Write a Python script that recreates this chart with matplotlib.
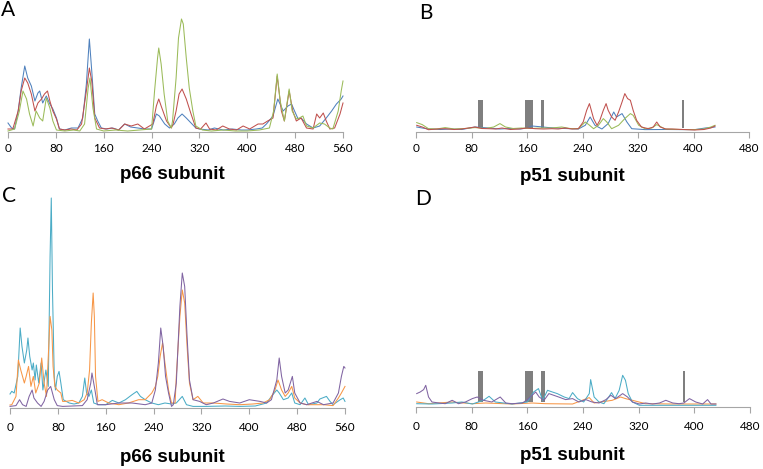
import matplotlib.pyplot as plt

W, H = 763, 469

# heights (px above each x axis), x = residue number
a_blue = [(0, 9), (6, 4), (11, 3), (17, 21), (22, 44), (28, 66), (33, 54), (39, 46), (45, 31), (50, 39),
          (53, 41), (58, 29), (64, 36), (70, 28), (75, 23), (81, 14), (86, 3), (95, 2), (106, 4), (117, 4),
          (125, 14), (131, 48), (136, 93), (140, 61), (145, 18), (150, 11), (156, 4), (165, 3), (175, 4),
          (185, 2), (195, 8), (205, 5), (217, 4), (228, 3), (240, 3), (248, 18), (253, 16), (262, 8),
          (270, 4), (278, 8), (284, 14), (291, 18), (298, 14), (306, 9), (314, 4), (320, 3), (335, 2),
          (345, 4), (360, 2), (375, 3), (390, 2), (400, 2), (415, 3), (425, 4), (432, 8), (443, 16),
          (451, 33), (460, 21), (468, 26), (474, 28), (479, 21), (485, 13), (490, 14), (499, 8), (510, 4),
          (521, 6), (532, 14), (541, 21), (549, 28), (557, 33), (560, 36)]
a_red = [(0, 3), (8, 3), (17, 21), (22, 41), (28, 54), (33, 49), (39, 38), (45, 21), (50, 29), (56, 33),
         (61, 38), (66, 41), (70, 31), (75, 21), (81, 13), (86, 3), (95, 2), (105, 3), (115, 2), (123, 8),
         (131, 41), (136, 64), (140, 51), (145, 14), (153, 4), (163, 3), (173, 4), (185, 2), (195, 8),
         (206, 6), (217, 8), (228, 3), (242, 8), (248, 26), (252, 33), (256, 26), (265, 11), (273, 4),
         (276, 8), (281, 21), (286, 38), (291, 43), (298, 33), (306, 18), (314, 4), (322, 3), (331, 9),
         (337, 3), (348, 2), (359, 6), (370, 3), (382, 2), (393, 6), (404, 3), (418, 8), (426, 8),
         (434, 11), (443, 14), (450, 56), (457, 21), (462, 11), (470, 41), (476, 21), (482, 11), (490, 14),
         (499, 4), (510, 3), (516, 18), (521, 14), (527, 19), (532, 11), (538, 3), (546, 4), (555, 18),
         (560, 29)]
a_green = [(0, 1), (11, 3), (19, 21), (25, 41), (31, 33), (36, 18), (42, 6), (47, 21), (53, 14), (58, 11),
           (64, 34), (70, 24), (75, 11), (81, 2), (95, 1), (110, 2), (120, 1), (128, 8), (134, 44),
           (137, 54), (142, 24), (148, 3), (160, 1), (180, 2), (200, 1), (220, 2), (240, 3), (245, 41),
           (250, 74), (252, 84), (256, 68), (261, 38), (267, 11), (273, 4), (275, 11), (281, 54), (285, 94),
           (290, 113), (293, 108), (298, 74), (303, 44), (309, 21), (314, 6), (325, 2), (340, 1), (360, 2),
           (380, 1), (400, 1), (420, 2), (437, 4), (444, 21), (450, 58), (455, 31), (462, 11), (470, 43),
           (475, 21), (482, 13), (487, 14), (493, 16), (499, 6), (510, 4), (521, 9), (529, 8), (538, 4),
           (543, 3), (552, 21), (557, 41), (560, 51)]

b_red = [(1, 6.7), (9, 5), (18, 2.3), (30, 3), (42, 3.3), (55, 2.5), (66, 3), (76, 4), (85, 5), (95, 3.5),
         (105, 3.3), (115, 3), (124, 4), (136, 2.5), (148, 3), (160, 4), (172, 3.3), (184, 3), (196, 3.3),
         (205, 3), (215, 4), (225, 3), (234, 3.3), (241, 10), (246, 21.7), (250, 28.4), (256, 13.4),
         (261, 6.7), (265, 11.7), (270, 21.7), (274, 28.4), (277, 21.7), (282, 15), (287, 11.7), (292, 20),
         (297, 30), (301, 38.4), (305, 33.4), (309, 31.7), (313, 21.7), (318, 11.7), (325, 5), (335, 3.3),
         (342, 5), (347, 10), (352, 5), (360, 3), (369, 3), (385, 2.5), (402, 2), (415, 2.5), (425, 4),
         (431, 6)]
b_green = [(1, 9.4), (9, 7.4), (18, 3.3), (30, 3), (42, 4.4), (55, 3), (70, 3.5), (85, 4.4), (100, 3.5),
           (112, 5), (121, 8.4), (129, 5), (140, 3.5), (152, 4), (165, 3.5), (180, 4), (196, 4), (210, 5),
           (222, 3.5), (234, 3.3), (244, 10), (249, 7.4), (256, 3.3), (263, 6.7), (270, 13.4), (275, 10),
           (282, 3.3), (292, 6.7), (301, 13.4), (309, 18.4), (313, 16.7), (321, 6.7), (330, 3.3), (340, 4),
           (347, 7.4), (359, 3), (380, 2.5), (402, 2.4), (415, 3), (425, 5), (431, 6.7)]
b_blue = [(1, 5), (9, 4), (18, 3), (35, 2.5), (50, 3), (66, 2.5), (85, 5), (95, 4.5), (105, 4), (120, 3),
          (135, 3.5), (150, 3), (160, 4), (167, 6), (177, 5.4), (190, 4.5), (201, 4), (215, 3.5), (234, 3),
          (244, 6.7), (251, 15), (258, 6.7), (268, 3), (277, 8.4), (285, 20), (289, 15), (297, 18.4),
          (304, 10), (311, 3.3), (330, 2.4), (360, 2.5), (380, 2.4), (402, 2.4), (417, 4), (425, 4.5),
          (431, 5)]

c_cyan = [(0, 14), (3, 16.7), (7, 15), (13, 31.6), (17, 80), (20, 61.6), (24, 45), (28, 58), (30, 70),
          (33, 51.6), (37, 38), (39, 45), (42, 28), (44, 43), (48, 25), (52, 45), (55, 18), (60, 38),
          (64, 21.6), (67, 151.6), (69, 210), (71, 118), (74, 31.6), (76, 18), (79, 31.6), (82, 36.6),
          (85, 25), (89, 8.3), (99, 5), (107, 4), (115, 5), (121, 11.6), (125, 30), (128, 15), (132, 11.6),
          (136, 18), (140, 5), (148, 3.3), (160, 3.3), (171, 7.6), (182, 5), (193, 8.3), (204, 13.3),
          (212, 16.6), (218, 11.6), (226, 8.3), (237, 5), (248, 3.3), (259, 5), (270, 4), (278, 5),
          (288, 11.6), (295, 3.3), (306, 1.6), (328, 1.6), (360, 2), (384, 1.6), (410, 2), (429, 5),
          (437, 11.6), (446, 18), (450, 15), (457, 8.3), (465, 10), (471, 15), (476, 5), (485, 3.3),
          (493, 10), (499, 3.3), (513, 5), (518, 9), (529, 11.6), (535, 6.6), (540, 3.3), (552, 8.3),
          (557, 10), (560, 6.6)]
c_orange = [(0, 3), (3, 3.3), (10, 11.6), (14, 48), (18, 38), (24, 25), (27, 31.6), (31, 41.6), (35, 21.6),
            (39, 31.6), (43, 15), (49, 25), (53, 50), (57, 25), (61, 11.6), (64, 51.6), (67, 91.6), (70, 78),
            (72, 41.6), (75, 21.6), (79, 18), (85, 15), (88, 6.6), (93, 6.6), (104, 7.6), (115, 5),
            (124, 8.3), (129, 15), (133, 38), (136, 85), (139, 115), (141, 91.6), (143, 31.6), (147, 6.6),
            (154, 8.3), (165, 5), (182, 3.3), (198, 5), (215, 8.3), (226, 8.3), (237, 15), (243, 21.6),
            (247, 31.6), (251, 51.6), (255, 65), (259, 45), (265, 18), (270, 5), (276, 5), (278, 31.6),
            (284, 91.6), (288, 118), (292, 105), (296, 61.6), (300, 25), (306, 8.3), (314, 11.6), (323, 5),
            (340, 5), (362, 4), (384, 3.3), (406, 4), (423, 5), (434, 8.3), (443, 18), (448, 28), (454, 18),
            (460, 11.6), (465, 15), (471, 21.6), (476, 10), (485, 5), (496, 3.3), (524, 3.3), (540, 2.4),
            (549, 10), (554, 15), (560, 21.6)]
c_purple = [(0, 1.6), (10, 2.4), (16, 8.3), (21, 3.3), (27, 1.6), (32, 11.6), (37, 18), (40, 10), (46, 5),
            (52, 1.6), (57, 6.6), (63, 18), (68, 21.6), (74, 8.3), (79, 2.4), (88, 1.6), (121, 2.4),
            (129, 8.3), (135, 25), (137, 35), (142, 18), (146, 3.3), (160, 3.3), (182, 5), (204, 5),
            (226, 3.3), (237, 5), (243, 18), (248, 45), (252, 80), (256, 61.6), (260, 31.6), (265, 15),
            (270, 1.6), (273, 3.3), (278, 25), (284, 101.6), (288, 135), (292, 121.6), (296, 71.6),
            (300, 28), (306, 8.3), (317, 6.6), (328, 3.3), (340, 5), (356, 9), (367, 6.6), (384, 5),
            (400, 8.3), (418, 6.6), (429, 5), (437, 8.3), (446, 28), (450, 50), (454, 31.6), (460, 15),
            (465, 18), (472, 31.6), (476, 15), (485, 5), (496, 3.3), (513, 6.6), (524, 3.3), (540, 5),
            (549, 15), (554, 31.6), (558, 41.6), (560, 40)]

d_purple = [(1, 13.4), (6, 15), (11, 17.4), (14, 21.7), (18, 10), (23, 5), (33, 4), (42, 3.3), (52, 6.7),
            (61, 3.3), (71, 5), (81, 8.4), (88, 10), (97, 6.7), (109, 5), (121, 10), (129, 4), (138, 3.3),
            (153, 4), (160, 7.4), (167, 11.7), (172, 15), (177, 10), (184, 6.7), (191, 13.4), (198, 11.7),
            (205, 10), (215, 7.4), (225, 8.4), (234, 5), (244, 7.4), (253, 5), (263, 4), (273, 7.4),
            (280, 11.7), (287, 8.4), (297, 13.4), (304, 10), (311, 5), (321, 3), (330, 4), (340, 3),
            (350, 4), (359, 6.7), (369, 4), (378, 3.3), (385, 4), (393, 8.4), (402, 5), (412, 3),
            (419, 7.4), (424, 3), (431, 3)]
d_cyan = [(1, 3.3), (23, 3), (52, 4), (66, 5), (81, 3), (97, 6.7), (105, 10.7), (114, 5), (138, 3),
          (160, 5), (169, 15), (176, 18.4), (182, 6.7), (189, 16.7), (196, 15), (203, 13.4), (213, 10),
          (220, 8.4), (225, 14.4), (232, 8.4), (241, 5), (249, 13.4), (251, 27.4), (256, 10), (263, 5),
          (270, 3.3), (277, 10), (281, 14.4), (286, 8.4), (292, 16.7), (297, 31.7), (301, 26.7),
          (305, 13.4), (311, 5), (321, 1.7), (360, 1.7), (400, 1.7), (431, 1.7)]
d_orange = [(1, 5), (18, 3.3), (52, 5), (81, 3.3), (100, 4), (138, 3), (167, 4), (186, 3.3), (225, 3),
            (249, 9.4), (256, 4), (282, 6.7), (294, 10), (301, 8.4), (311, 6.7), (330, 3.3), (369, 3),
            (431, 3)]

# gray marker columns on the p51 panels (start residue, width)
bar_start = [89, 157, 180, 383]
bar_width = [8, 11, 5, 3]

BLUE, RED, GREEN = "#4F81BD", "#C0504D", "#9BBB59"
CYAN, ORANGE, PURPLE = "#4BACC6", "#F79646", "#8064A2"

fig = plt.figure(figsize=(W / 100, H / 100), dpi=100)


def add_panel(left, axis_y, width, height, xmax, pad):
    ax = fig.add_axes([left / W, 1 - axis_y / H, width / W, height / H])
    ax.set_xlim(0, xmax)
    ax.set_ylim(0, height)
    for s in ["left", "top", "right"]:
        ax.spines[s].set_visible(False)
    ax.spines["bottom"].set_color("#A6A6A6")
    ax.set_yticks([])
    ax.set_xticks(range(0, xmax + 1, 80))
    ax.tick_params(axis="x", length=4, color="#A6A6A6", pad=pad, labelsize=8.5)
    for lab in ax.get_xticklabels():
        lab.set_family("Lato")
    ax.patch.set_alpha(0)
    return ax


def draw(ax, series, color):
    x, y = zip(*series)
    ax.plot(x, y, color=color, lw=0.75, clip_on=False)


axA = add_panel(8, 132, 335, 122, 560, 4)
draw(axA, a_blue, BLUE)
draw(axA, a_red, RED)
draw(axA, a_green, GREEN)

axB = add_panel(416, 132, 333, 122, 480, 4)
axB.bar(bar_start, [28] * 4, width=bar_width, bottom=4, align="edge", color="#7F7F7F", zorder=1)
draw(axB, b_blue, BLUE)
draw(axB, b_green, GREEN)
draw(axB, b_red, RED)

axC = add_panel(10, 408, 335, 220, 560, 6)
draw(axC, c_cyan, CYAN)
draw(axC, c_orange, ORANGE)
draw(axC, c_purple, PURPLE)

axD = add_panel(416, 407, 334, 220, 480, 6)
axD.bar(bar_start, [31] * 4, width=bar_width, bottom=5, align="edge", color="#7F7F7F", zorder=1)
draw(axD, d_orange, ORANGE)
draw(axD, d_cyan, CYAN)
draw(axD, d_purple, PURPLE)

# panel letters and subunit titles
for letter, (px, py) in zip("ABCD", [(1, 10), (419, 13), (2, 196), (415, 199)]):
    fig.text(px / W, 1 - py / H, letter, fontsize=15, family="Lato", va="center", ha="left")
for name, (px, py) in zip(["p66 subunit", "p51 subunit", "p66 subunit", "p51 subunit"],
                          [(172, 174), (572, 176), (172, 457), (572, 455)]):
    fig.text(px / W, 1 - py / H, name, fontsize=13.5, family="Liberation Sans",
             weight="bold", ha="center", va="center")

fig.savefig("out.png", dpi=100)
